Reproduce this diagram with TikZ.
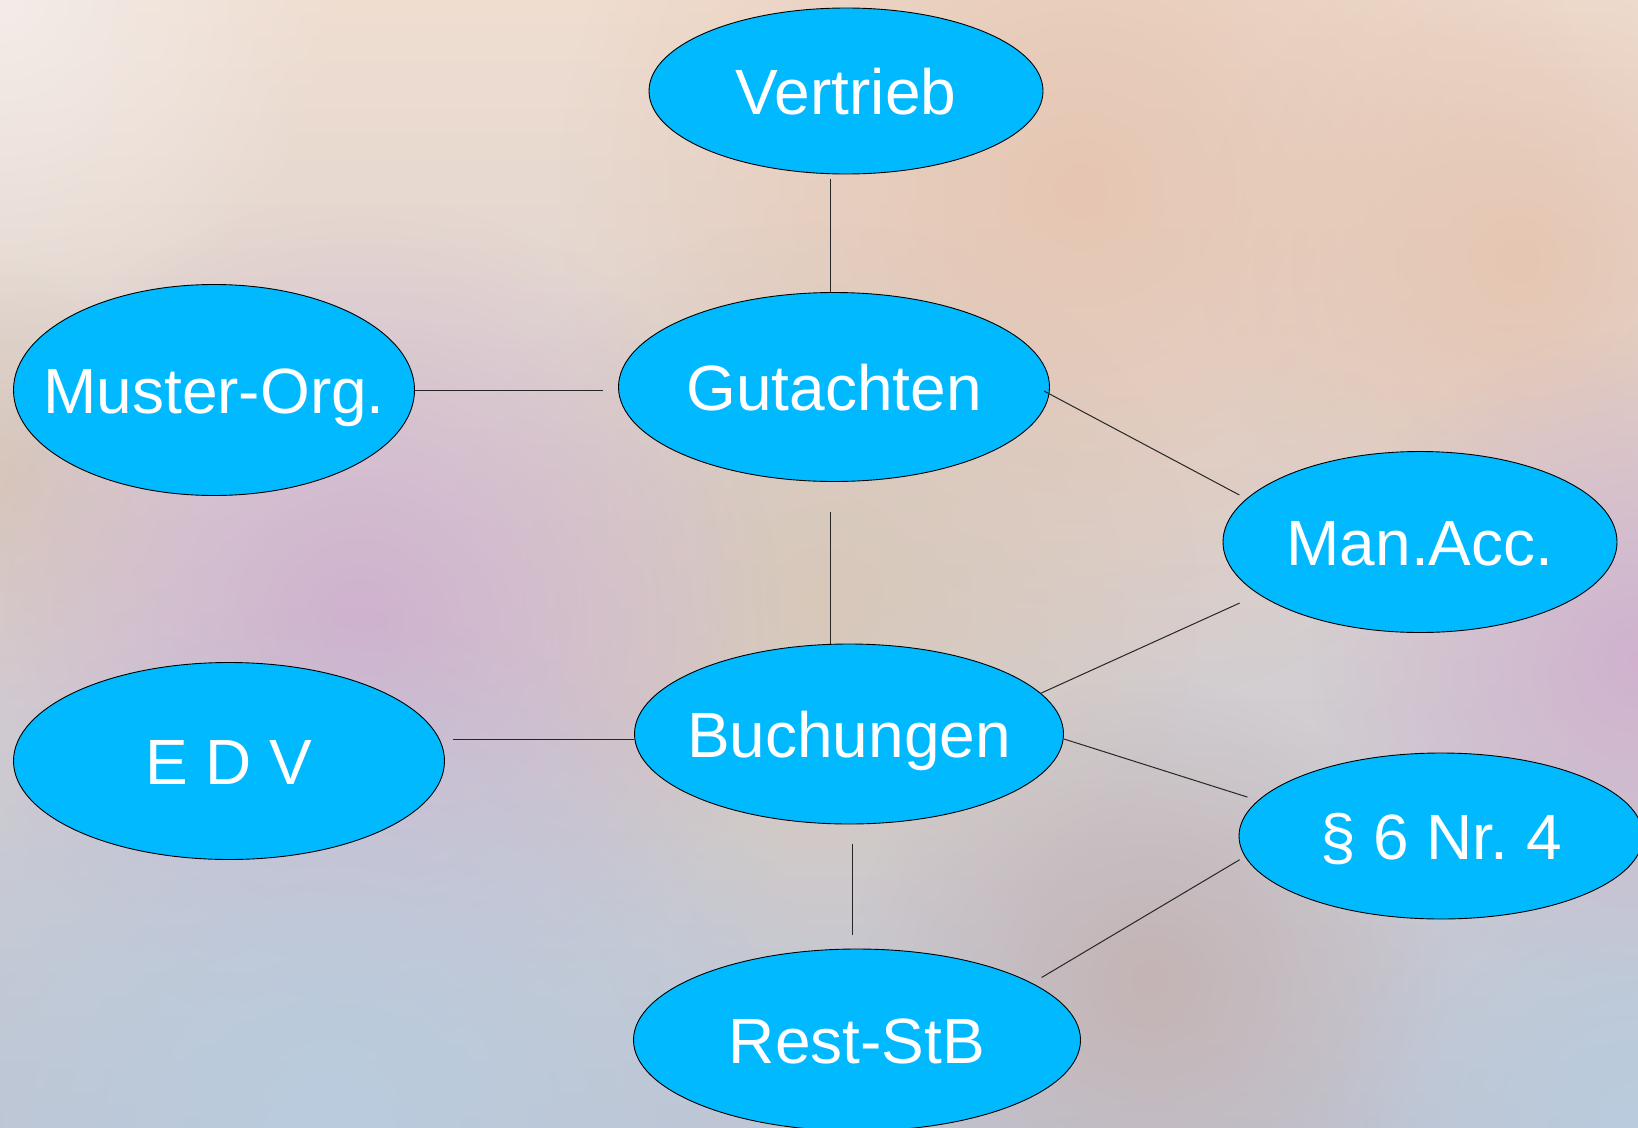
\documentclass[tikz,border=0pt]{standalone}
\usepackage{fontspec}
\setmainfont{Liberation Sans}
\usetikzlibrary{shapes.geometric,fadings}

\definecolor{knoten}{HTML}{00B9FF}
\definecolor{bgoben}{HTML}{EFDDD0}
\definecolor{bgmitte}{HTML}{DBC3C3}
\definecolor{bgunten}{HTML}{C0C4D2}
\definecolor{bglila}{HTML}{D0B2CE}
\definecolor{bgpfirsich}{HTML}{E6C6B2}
\definecolor{bghell}{HTML}{F3ECE8}
\definecolor{bgblau}{HTML}{B9CCDE}
\definecolor{bgbraun}{HTML}{C4B4B4}
\definecolor{bgsand}{HTML}{D8C8BA}

\tikzfading[name=fleckweg, inner color=transparent!0, outer color=transparent!100]

\tikzset{
  bereich/.style={ellipse, draw=black, line width=0.9pt, fill=knoten, inner sep=0pt},
  beschrift/.style={text=white, font=\fontsize{64}{64}\selectfont, inner sep=0pt,
    text height=46pt, text depth=0pt},
  verbindung/.style={draw=black!85, line width=1pt},
  fleck/.style={path fading=fleckweg}
}

\begin{document}
\begin{tikzpicture}[x=1pt, y=-1pt, every label/.style={beschrift}]
    % Hintergrund
    \useasboundingbox (0,0) rectangle (1638,1127);
    \clip (0,0) rectangle (1638,1127);
    \shade[top color=bgoben, middle color=bgmitte, bottom color=bgunten] (0,0) rectangle (1638,1127);
    \fill[bghell, fleck] (0,0) circle (340pt);
    \fill[bgpfirsich, fleck] (1080,190) circle (520pt);
    \fill[bgpfirsich, fleck] (1520,260) circle (320pt);
    \fill[bgsand, fleck] (820,600) circle (380pt);
    \fill[bgsand, fleck] (0,480) circle (220pt);
    \fill[bglila, fleck] (360,620) circle (420pt);
    \fill[bglila, fleck] (1640,660) circle (330pt);
    \fill[bgblau, fleck] (330,1127) circle (520pt);
    \fill[bgbraun, fleck] (1150,980) circle (300pt);
    \fill[bgblau, fleck] (1638,1127) circle (320pt);

    % Bereiche
    \node[bereich, minimum width=394pt, minimum height=166pt, label=center:Vertrieb] (vertrieb) at (846,91) {};
    \node[bereich, minimum width=431pt, minimum height=189pt, label=center:Gutachten] (gutachten) at (834,387) {};
    \node[bereich, minimum width=401pt, minimum height=211pt, label=center:Muster-Org.] (muster) at (214,390) {};
    \node[bereich, minimum width=394pt, minimum height=181pt, label=center:Man.Acc.] (manacc) at (1420,542) {};
    \node[bereich, minimum width=429pt, minimum height=180pt, label=center:Buchungen] (buchungen) at (849,734) {};
    \node[bereich, minimum width=431pt, minimum height=197pt, label=center:E D V] (edv) at (229,761) {};
    \node[bereich, minimum width=404pt, minimum height=166pt, label=center:\S{} 6 Nr.\ 4] (paragraph) at (1441,836) {};
    \node[bereich, minimum width=447pt, minimum height=182pt, label=center:Rest-StB] (rest) at (857,1040) {};

    % Verbindungen
    \draw[verbindung] ([xshift=-16pt,yshift=-5pt]vertrieb.south) -- ([xshift=-4pt]gutachten.north);
    \draw[verbindung, shorten >=15pt] (muster.east) -- (muster.east -| gutachten.west);
    \draw[verbindung, shorten >=8pt] ([xshift=-6pt,yshift=-4pt]gutachten.east) -- (manacc.166);
    \draw[verbindung] ([xshift=-4pt,yshift=-30pt]gutachten.south) -- ([xshift=-19pt]buchungen.north);
    \draw[verbindung, shorten <=21pt] (manacc.198) -- (buchungen.12);
    \draw[verbindung] ([yshift=-5pt]buchungen.west) -- ([xshift=8pt,yshift=22pt]edv.east);
    \draw[verbindung, shorten >=11pt] ([yshift=-5pt]buchungen.east) -- (paragraph.169);
    \draw[verbindung, shorten <=6pt, shorten >=11pt] (paragraph.186) -- (rest.18);
    \draw[verbindung] ([xshift=3pt,yshift=-20pt]buchungen.south) -- ([xshift=-5pt,yshift=14pt]rest.north);
\end{tikzpicture}
\end{document}
